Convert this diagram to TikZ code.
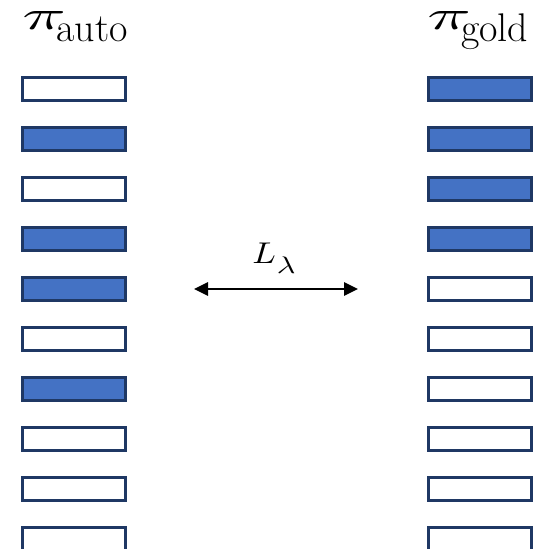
\documentclass[tikz,border=0pt]{standalone}
\usepackage{graphicx}
\usetikzlibrary{arrows.meta}
\definecolor{fillblue}{HTML}{4472C4}
\definecolor{edgenavy}{HTML}{1F3864}
\newcommand{\bigpi}{\makebox[25.5pt][l]{\scalebox{5.4}[3.13]{$\pi$}}}
\newcommand{\subtxt}[1]{\raisebox{-9pt}{\fontsize{30}{34}\selectfont #1}}
\begin{document}
\begin{tikzpicture}[x=0.75pt,y=-0.75pt,
  slot/.style={draw=edgenavy,line width=2pt,minimum width=103*0.75pt,minimum height=23*0.75pt,inner sep=0pt,anchor=north west},
  on/.style={slot,fill=fillblue},
  off/.style={slot,fill=white},
  lbl/.style={inner sep=0pt,anchor=base west},
  bigtip/.tip={Triangle[length=10.5pt,width=10pt]}]
\useasboundingbox (0,0) rectangle (535,549);
\clip (0,0) rectangle (535,549);
% left column
\foreach \i/\s in {1/off,2/on,3/off,4/on,5/on,6/off,7/on,8/off,9/off,10/off}{
  \node[\s] (a\i) at (21,{76+50*(\i-1)}) {};
}
% right column
\foreach \i/\s in {1/on,2/on,3/on,4/on,5/off,6/off,7/off,8/off,9/off,10/off}{
  \node[\s] (g\i) at (427,{76+50*(\i-1)}) {};
}
\node[lbl] (ta) at (22,30) {\bigpi\subtxt{auto}};
\node[lbl] (tg) at (427,30) {\bigpi\subtxt{gold}};
\node[lbl] (L) at (252,263) {\makebox[18.5pt][l]{\scalebox{2.6}[2.25]{$L$}}\raisebox{-7.5pt}{\scalebox{2.4}[1.8]{$\lambda$}}};
\coordinate (l) at (194,289);
\coordinate (r) at (358,289);
\draw[line width=1.6pt,bigtip-bigtip] (l) -- (r);
\end{tikzpicture}
\end{document}
